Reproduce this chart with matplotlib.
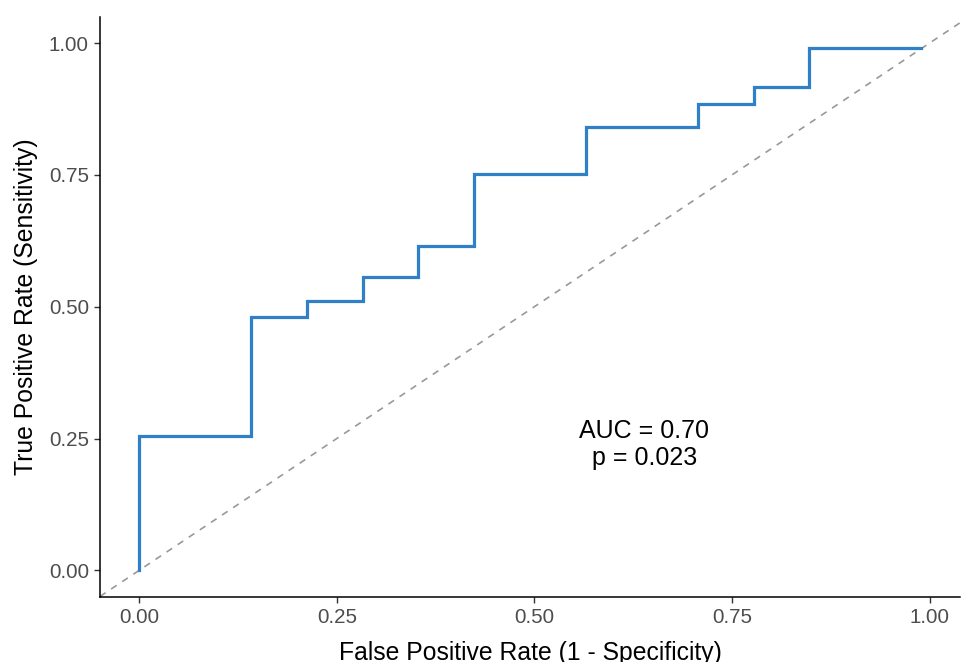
import matplotlib
matplotlib.use('Agg')
import matplotlib.pyplot as plt

# ROC curve steps
fpr = [0.000, 0.000, 0.141, 0.141, 0.212, 0.212, 0.283, 0.283, 0.353, 0.353,
       0.424, 0.424, 0.565, 0.565, 0.707, 0.707, 0.778, 0.778, 0.848, 0.848, 0.989]
tpr = [0.000, 0.255, 0.255, 0.480, 0.480, 0.510, 0.510, 0.556, 0.556, 0.615,
       0.615, 0.751, 0.751, 0.841, 0.841, 0.885, 0.885, 0.916, 0.916, 0.990, 0.990]
ticks = [0.0, 0.25, 0.5, 0.75, 1.0]
tick_labels = ['0.00', '0.25', '0.50', '0.75', '1.00']
auc_label = 'AUC = 0.70\np = 0.023'

plt.rcParams['font.family'] = ['Liberation Sans', 'DejaVu Sans']

fig = plt.figure(figsize=(9.61, 6.62), dpi=100)
ax = fig.add_axes([0.1041, 0.0986, 0.8949, 0.8762])

ax.axline((0, 0), slope=1, color='#999999', lw=1.2, ls=(0, (4, 4)), zorder=1)
ax.plot(fpr, tpr, color='#2F80C6', lw=2.3, solid_joinstyle='miter', zorder=2)

ax.text(0.639, 0.238, auc_label, ha='center', va='center', fontsize=18,
        color='black', linespacing=1.15)

xmax = max(fpr)
ax.set_xlim(-0.05 * xmax, xmax * 1.05)
ax.set_ylim(-0.05, 1.05)
ax.set_xticks(ticks)
ax.set_xticklabels(tick_labels)
ax.set_yticks(ticks)
ax.set_yticklabels(tick_labels)

for side in ['top', 'right']:
    ax.spines[side].set_visible(False)
for side in ['left', 'bottom']:
    ax.spines[side].set_linewidth(1.1)
    ax.spines[side].set_color('black')

ax.tick_params(axis='both', length=4, width=1.0, color='#333333',
               labelsize=14.8, labelcolor='#4D4D4D', pad=4)

ax.set_xlabel('False Positive Rate (1 - Specificity)', fontsize=17.8, color='black', labelpad=10)
ax.set_ylabel('True Positive Rate (Sensitivity)', fontsize=17.8, color='black', labelpad=8)

fig.savefig('out.png', dpi=100)
